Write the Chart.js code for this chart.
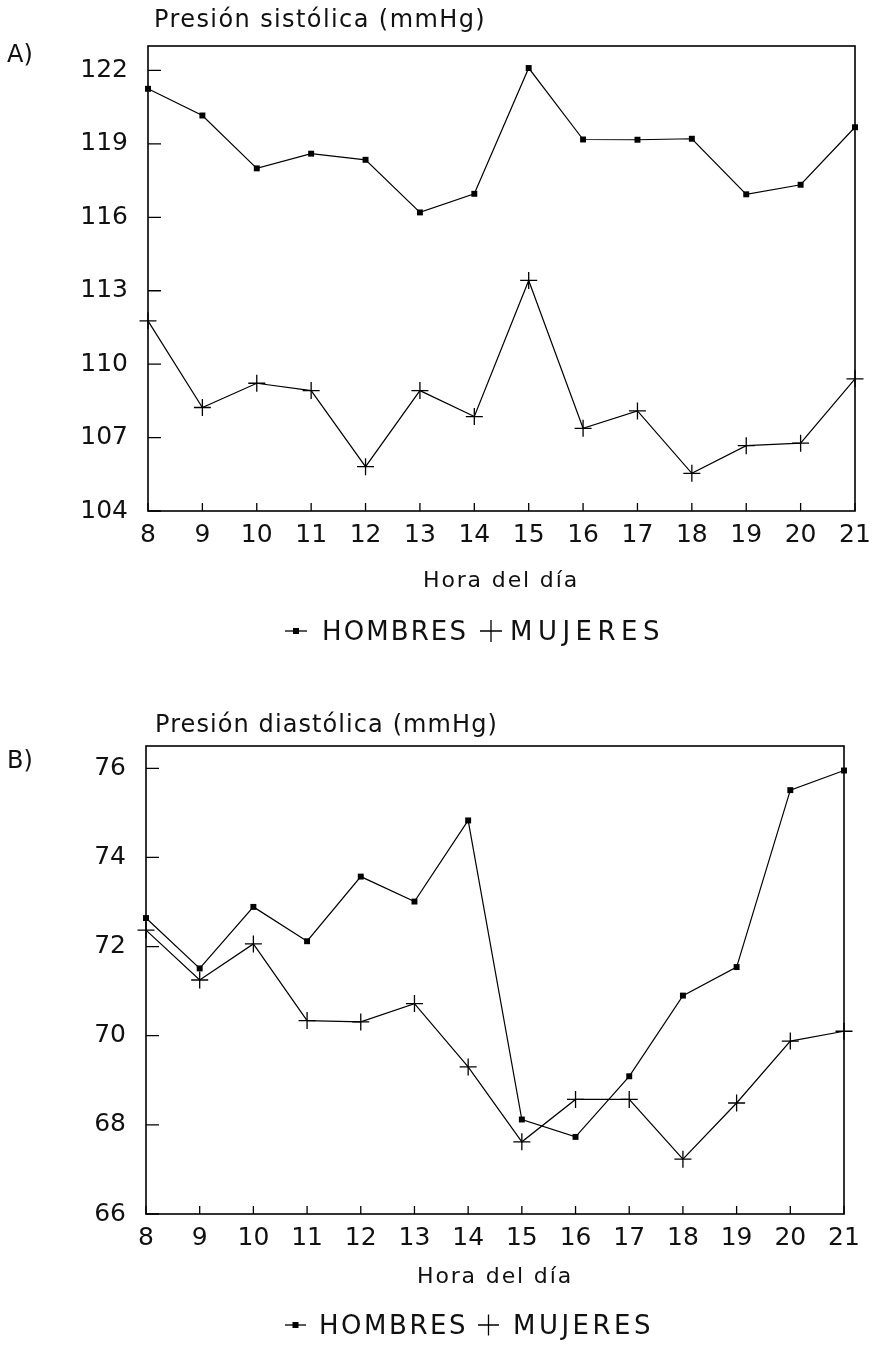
<!DOCTYPE html>
<html><head><meta charset="utf-8">
<script src="https://cdn.jsdelivr.net/npm/chart.js"></script>
<style>
html,body{margin:0;padding:0;background:#fff;}
.wrap{position:absolute;left:0;width:872px;}
canvas{display:block;}
</style></head><body>
<div class="wrap" style="top:0;height:672px"><canvas id="cA" width="872" height="672"></canvas></div>
<div class="wrap" style="top:672px;height:673px"><canvas id="cB" width="872" height="673"></canvas></div>
<script>
// ---- data ----
const hours = ['8','9','10','11','12','13','14','15','16','17','18','19','20','21'];
const seriesNames = ['HOMBRES', 'MUJERES'];
const sysHombres = [121.25, 120.16, 118.0, 118.6, 118.35, 116.2, 116.96, 122.1, 119.18, 119.17, 119.21, 116.94, 117.33, 119.68];
const sysMujeres = [111.77, 108.23, 109.22, 108.92, 105.81, 108.92, 107.86, 113.42, 107.38, 108.09, 105.54, 106.67, 106.77, 109.4];
const diaHombres = [72.64, 71.51, 72.89, 72.12, 73.57, 73.01, 74.83, 68.12, 67.73, 69.09, 70.9, 71.54, 75.51, 75.95];
const diaMujeres = [72.37, 71.25, 72.06, 70.34, 70.31, 70.72, 69.3, 67.62, 68.57, 68.57, 67.23, 68.49, 69.88, 70.1];
const sysTicks = [104, 107, 110, 113, 116, 119, 122];
const diaTicks = [66, 68, 70, 72, 74, 76];
const sysTitle = 'Presión sistólica (mmHg)';
const diaTitle = 'Presión diastólica (mmHg)';
const xTitle = 'Hora del día';

const FONT = '"DejaVu Sans", Verdana, sans-serif';
const INK = '#111';

function drawSpaced(ctx, text, x, y, size, target, align) {
  ctx.font = size + 'px ' + FONT;
  let ls = 0;
  if ('letterSpacing' in ctx) {
    ctx.letterSpacing = '0px';
    const w = ctx.measureText(text).width;
    ls = Math.max(0, (target - w) / Math.max(1, text.length));
    ctx.letterSpacing = ls.toFixed(2) + 'px';
  }
  let w2 = ctx.measureText(text).width;
  let sx = align === 'center' ? x - w2 / 2 : x;
  ctx.textAlign = 'left';
  ctx.textBaseline = 'alphabetic';
  ctx.fillText(text, sx, y);
  if ('letterSpacing' in ctx) ctx.letterSpacing = '0px';
}

const framePlugin = {
  id: 'frame',
  beforeDatasetsDraw(chart, args, o) {
    const {ctx, chartArea: a, scales: {x, y}} = chart;
    ctx.save();
    ctx.strokeStyle = '#000';
    ctx.lineWidth = 1.6;
    ctx.strokeRect(a.left, a.top, a.right - a.left, a.bottom - a.top);
    ctx.lineWidth = 1.3;
    ctx.beginPath();
    y.ticks.forEach(t => {
      const py = y.getPixelForValue(t.value);
      ctx.moveTo(a.left, py); ctx.lineTo(a.left + o.yTick, py);
    });
    x.ticks.forEach((t, i) => {
      const px = x.getPixelForTick(i);
      ctx.moveTo(px, a.bottom); ctx.lineTo(px, a.bottom - o.xTick);
    });
    ctx.stroke();
    ctx.restore();
  },
  afterDraw(chart, args, o) {
    const ctx = chart.ctx;
    ctx.save();
    ctx.fillStyle = INK;
    drawSpaced(ctx, o.panel, o.panelX, o.panelY, 24, o.panelW, 'left');
    drawSpaced(ctx, o.title, o.titleX, o.titleY, 24, o.titleW, 'left');
    drawSpaced(ctx, o.xTitle, o.xTitleX, o.xTitleY, 22, o.xTitleW, 'center');
    // legend
    const L = o.legend;
    const cy = L.y - 9;
    ctx.strokeStyle = '#000';
    ctx.fillStyle = '#000';
    ctx.lineWidth = 1.3;
    ctx.beginPath();
    ctx.moveTo(L.s1x, cy); ctx.lineTo(L.s1x + L.s1w, cy);
    ctx.stroke();
    ctx.fillRect(L.s1x + L.s1w / 2 - 3, cy - 3, 6, 6);
    ctx.beginPath();
    ctx.moveTo(L.s2x, cy); ctx.lineTo(L.s2x + L.s2w, cy);
    ctx.moveTo(L.s2x + L.s2w / 2, cy - L.s2w / 2); ctx.lineTo(L.s2x + L.s2w / 2, cy + L.s2w / 2);
    ctx.stroke();
    ctx.fillStyle = INK;
    drawSpaced(ctx, seriesNames[0], L.t1x, L.y, 26, L.t1w, 'left');
    drawSpaced(ctx, seriesNames[1], L.t2x, L.y, 26, L.t2w, 'left');
    ctx.restore();
  }
};

function makeChart(id, hVals, mVals, ticks, yMin, yMax, lay, frame) {
  return new Chart(document.getElementById(id), {
    type: 'line',
    data: {
      labels: hours,
      datasets: [
        {label: seriesNames[0], data: hVals, borderColor: '#000', borderWidth: 1.2,
         pointStyle: 'rect', pointRadius: 4.2, pointBackgroundColor: '#000', pointBorderColor: '#000',
         pointBorderWidth: 0, tension: 0, clip: false},
        {label: seriesNames[1], data: mVals, borderColor: '#000', borderWidth: 1.2,
         pointStyle: 'cross', pointRadius: 8.5, pointBorderColor: '#000', pointBackgroundColor: '#000',
         pointBorderWidth: 1.3, tension: 0, clip: false}
      ]
    },
    options: {
      responsive: false, animation: false, devicePixelRatio: 1,
      layout: {padding: lay.padding},
      plugins: {legend: {display: false}, tooltip: {enabled: false}, frame: frame},
      events: [],
      scales: {
        x: {
          type: 'category', offset: false,
          grid: {display: false}, border: {display: false},
          ticks: {font: {family: FONT, size: 25}, color: INK, padding: lay.xPad, maxRotation: 0, autoSkip: false},
          afterFit: s => { s.height = lay.xHeight; }
        },
        y: {
          min: yMin, max: yMax,
          grid: {display: false}, border: {display: false},
          afterBuildTicks: s => { s.ticks = ticks.map(v => ({value: v})); },
          ticks: {font: {family: FONT, size: 25}, color: INK, padding: 12},
          afterFit: s => { s.width = lay.yWidth; }
        }
      }
    },
    plugins: [framePlugin]
  });
}

makeChart('cA', sysHombres, sysMujeres, sysTicks, 104, 123,
  {padding: {top: 46, right: 17, left: 0, bottom: 0}, yWidth: 148, xHeight: 161, xPad: 1},
  {yTick: 13, xTick: 8, panel: 'A)', panelX: 7, panelY: 62, panelW: 24,
   title: sysTitle, titleX: 154, titleY: 27, titleW: 332,
   xTitle: xTitle, xTitleX: 501, xTitleY: 587, xTitleW: 156,
   legend: {y: 640, s1x: 285, s1w: 22, t1x: 322, t1w: 146, s2x: 480, s2w: 22, t2x: 510, t2w: 155}});

makeChart('cB', diaHombres, diaMujeres, diaTicks, 66, 76.5,
  {padding: {top: 74, right: 28, left: 0, bottom: 0}, yWidth: 146, xHeight: 131, xPad: 1},
  {yTick: 13, xTick: 8, panel: 'B)', panelX: 7, panelY: 96, panelW: 24,
   title: diaTitle, titleX: 155, titleY: 60, titleW: 343,
   xTitle: xTitle, xTitleX: 495, xTitleY: 611, xTitleW: 156,
   legend: {y: 662, s1x: 285, s1w: 21, t1x: 319, t1w: 149, s2x: 478, s2w: 21, t2x: 513, t2w: 141}});
</script>
</body></html>
